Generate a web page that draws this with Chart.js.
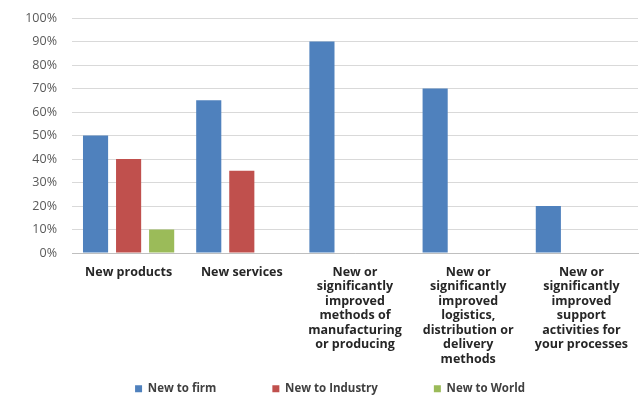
<!DOCTYPE html>
<html>
<head>
<meta charset="utf-8">
<script src="https://cdn.jsdelivr.net/npm/chart.js@4"></script>
<style>
  html, body { margin: 0; padding: 0; background: #fff; }
  #wrap { width: 642px; height: 401px; }
</style>
</head>
<body>
<div id="wrap"><canvas id="innovChart" width="642" height="401"></canvas></div>
<script>
// Chart data
const categories = [
  ["New products"],
  ["New services"],
  ["New or", "significantly", "improved", "methods of", "manufacturing", "or producing"],
  ["New or", "significantly", "improved", "logistics,", "distribution or", "delivery", "methods"],
  ["New or", "significantly", "improved", "support", "activities for", "your processes"]
];
const newToFirm = [50, 65, 90, 70, 20];
const newToIndustry = [40, 35, 0, 0, 0];
const newToWorld = [10, 0, 0, 0, 0];
const yTicks = [0, 10, 20, 30, 40, 50, 60, 70, 80, 90, 100];

const ctx = document.getElementById("innovChart").getContext("2d");

let innovChart = new Chart(ctx, {
    type: "bar",
    data: {
        labels: categories,
        datasets: [
            { label: "New to firm", data: newToFirm, backgroundColor: "#4f81bd" },
            { label: "New to Industry", data: newToIndustry, backgroundColor: "#c0504d" },
            { label: "New to World", data: newToWorld, backgroundColor: "#9bbb59" }
        ]
    },
    options: {
        responsive: false,
        animation: false,
        layout: { padding: { top: 18, right: 4, left: 22, bottom: 0 } },
        datasets: {
            bar: { categoryPercentage: 0.876, barPercentage: 0.76 }
        },
        scales: {
            x: {
                afterFit: function(axis) { axis.height = 114; },
                grid: { display: false, drawTicks: false },
                border: { color: "#bfbfbf" },
                ticks: {
                    color: "#262626",
                    maxRotation: 0,
                    autoSkip: false,
                    padding: 12,
                    font: { family: "Open Sans", size: 12.5, weight: "bold", lineHeight: 1.16 }
                }
            },
            y: {
                min: 0,
                max: 100,
                afterFit: function(axis) {
                    axis.width = 50;
                    // tick padding was pushing the plot top down
                    axis.paddingTop = 0;
                    axis.paddingBottom = 0;
                },
                afterBuildTicks: function(axis) {
                    axis.ticks = yTicks.map(v => ({ value: v }));
                },
                grid: { color: "#d9d9d9", drawTicks: false },
                border: { display: false },
                ticks: {
                    color: "#595959",
                    padding: 15,
                    font: { family: "Open Sans", size: 12.5 },
                    callback: function(value) { return value + "%"; }
                }
            }
        },
        plugins: {
            tooltip: { enabled: false },
            legend: {
                position: "bottom",
                labels: {
                    boxWidth: 7,
                    boxHeight: 7,
                    padding: 56,
                    color: "#404040",
                    font: { family: "Open Sans", size: 11.5, weight: "bold" }
                }
            }
        }
    }
});

// legend padding is also used vertically, so keep the box short and lift the row
const legendFit = innovChart.legend.fit;
innovChart.legend.fit = function() {
    legendFit.call(this);
    this.height = 34;
};
const legendDraw = innovChart.legend.draw;
innovChart.legend.draw = function() {
    const top = this.top;
    this.top = top - 40;
    legendDraw.call(this);
    this.top = top;
};
innovChart.update();
</script>
</body>
</html>
